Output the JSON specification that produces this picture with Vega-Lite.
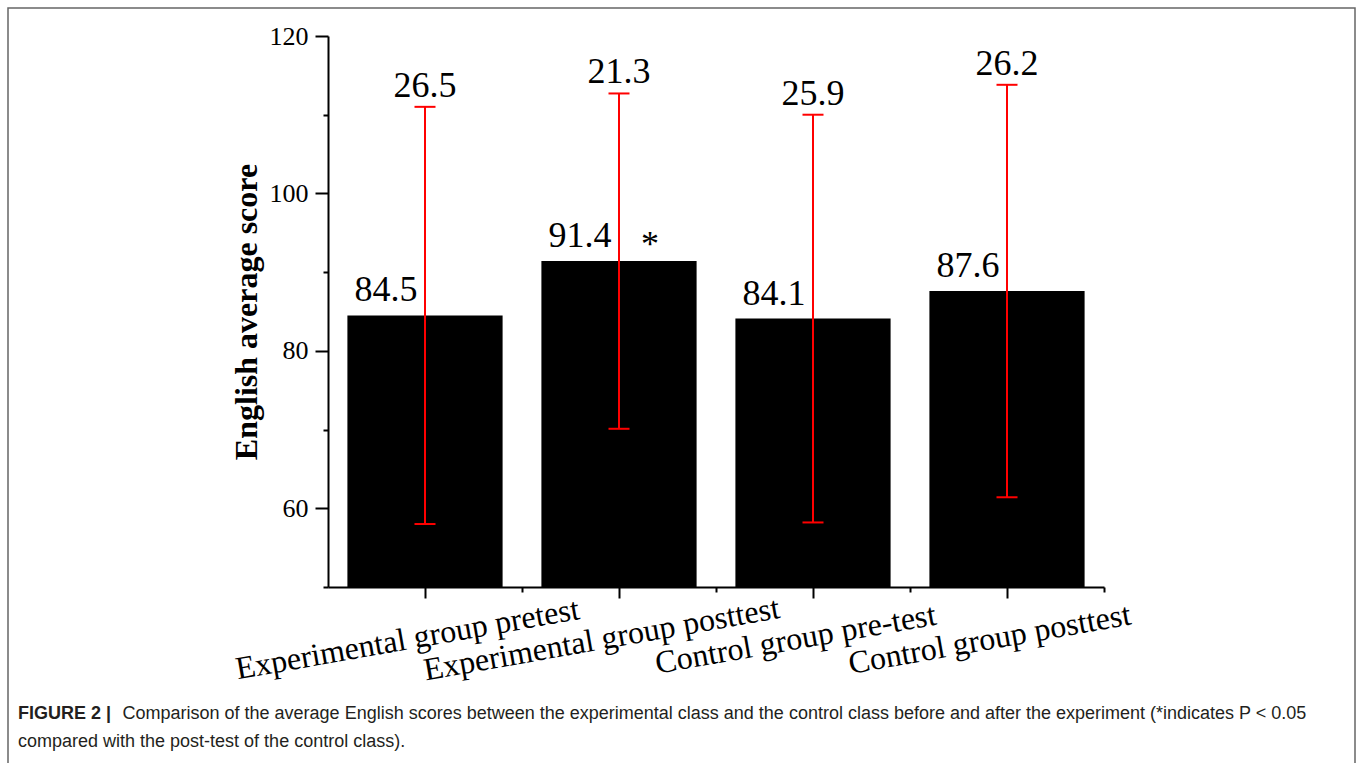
{
  "$schema": "https://vega.github.io/schema/vega-lite/v6.json",
  "width": 1347,
  "height": 760,
  "autosize": {"type": "none"},
  "padding": {"left": 8, "top": 8, "right": 3, "bottom": 0},
  "background": "white",
  "config": {
    "view": {"stroke": "#666666", "strokeWidth": 1.5},
    "font": "Liberation Serif"
  },
  "title": {
    "text": "FIGURE 2 |",
    "orient": "bottom",
    "anchor": "start",
    "frame": "bounds",
    "offset": -63,
    "dx": 10,
    "font": "Liberation Sans",
    "fontSize": 18,
    "fontWeight": "bold",
    "color": "#231f20",
    "subtitle": "compared with the post-test of the control class).",
    "subtitleFont": "Liberation Sans",
    "subtitleFontSize": 18,
    "subtitleColor": "#231f20",
    "subtitlePadding": 10
  },
  "data": {
    "values": [
      {"group": "Experimental group pretest", "mean": 84.5, "sd": 26.5, "low": 58.0, "high": 111.0, "sig": ""},
      {"group": "Experimental group posttest", "mean": 91.4, "sd": 21.3, "low": 70.1, "high": 112.7, "sig": "*"},
      {"group": "Control group pre-test", "mean": 84.1, "sd": 25.9, "low": 58.2, "high": 110.0, "sig": ""},
      {"group": "Control group posttest", "mean": 87.6, "sd": 26.2, "low": 61.4, "high": 113.8, "sig": ""}
    ]
  },
  "resolve": {"axis": {"x": "independent", "y": "independent"}},
  "layer": [
    {
      "mark": {"type": "bar", "color": "black"},
      "encoding": {
        "x": {
          "field": "group", "type": "nominal", "sort": null,
          "scale": {"type": "band", "range": [320, 1096], "paddingInner": 0.2, "paddingOuter": 0.1},
          "axis": {
            "orient": "bottom", "offset": -181, "title": null,
            "domainColor": "black", "domainWidth": 2, "tickColor": "black", "tickWidth": 2, "tickSize": 11,
            "labelAngle": -10, "labelAlign": "center", "labelBaseline": "top",
            "labelFont": "Liberation Serif", "labelFontSize": 32, "labelColor": "black",
            "labelPadding": 26, "labelOffset": -20, "labelLimit": 0, "labelOverlap": false, "labelFlush": false, "labelBound": false,
            "grid": false
          }
        },
        "y": {
          "field": "mean", "type": "quantitative",
          "scale": {"domain": [50, 120], "range": [579, 28], "nice": false, "zero": false},
          "axis": {
            "orient": "left", "offset": -320, "values": [60, 80, 100, 120],
            "title": "English average score", "titleFont": "Liberation Serif", "titleFontSize": 32, "titleFontWeight": "bold", "titleColor": "black", "titlePadding": 6,
            "domainColor": "black", "domainWidth": 2, "tickColor": "black", "tickWidth": 2, "tickSize": 13,
            "labelFont": "Liberation Serif", "labelFontSize": 26, "labelColor": "black", "labelPadding": 7,
            "grid": false
          }
        },
        "y2": {"datum": 50}
      }
    },
    {
      "mark": {"type": "rule", "color": "red", "strokeWidth": 2},
      "encoding": {
        "x": {
          "field": "group", "type": "nominal", "sort": null,
          "axis": {
            "orient": "bottom", "offset": -181, "domain": false, "labels": false,
            "tickColor": "black", "tickWidth": 2, "tickSize": 5, "bandPosition": 1.125, "grid": false,
            "title": "Comparison of the average English scores between the experimental class and the control class before and after the experiment (*indicates P < 0.05",
            "titleX": 114, "titleY": 117, "titleAlign": "left", "titleBaseline": "top", "titleAngle": 0,
            "titleFont": "Liberation Sans", "titleFontSize": 18, "titleFontWeight": "normal", "titleColor": "#231f20", "titleLimit": 2000
          }
        },
        "y": {
          "field": "low", "type": "quantitative",
          "axis": {
            "orient": "left", "offset": -320, "values": [50, 70, 90, 110], "title": null, "domain": false, "labels": false,
            "tickColor": "black", "tickWidth": 2, "tickSize": 5, "grid": false
          }
        },
        "y2": {"field": "high"}
      }
    },
    {
      "mark": {"type": "tick", "color": "red", "thickness": 2, "size": 21, "opacity": 1},
      "encoding": {
        "x": {"field": "group", "type": "nominal", "sort": null, "axis": null},
        "y": {"field": "low", "type": "quantitative", "axis": null}
      }
    },
    {
      "mark": {"type": "tick", "color": "red", "thickness": 2, "size": 21, "opacity": 1},
      "encoding": {
        "x": {"field": "group", "type": "nominal", "sort": null, "axis": null},
        "y": {"field": "high", "type": "quantitative", "axis": null}
      }
    },
    {
      "mark": {"type": "text", "font": "Liberation Serif", "fontSize": 36, "color": "black", "baseline": "alphabetic", "align": "center", "dx": -39, "dy": -14},
      "encoding": {
        "x": {"field": "group", "type": "nominal", "sort": null, "axis": null},
        "y": {"field": "mean", "type": "quantitative", "axis": null},
        "text": {"field": "mean", "type": "quantitative", "format": ".1f"}
      }
    },
    {
      "mark": {"type": "text", "font": "Liberation Serif", "fontSize": 36, "color": "black", "baseline": "alphabetic", "align": "center", "dy": -10},
      "encoding": {
        "x": {"field": "group", "type": "nominal", "sort": null, "axis": null},
        "y": {"field": "high", "type": "quantitative", "axis": null},
        "text": {"field": "sd", "type": "quantitative", "format": ".1f"}
      }
    },
    {
      "mark": {"type": "text", "font": "Liberation Serif", "fontSize": 36, "color": "black", "baseline": "alphabetic", "align": "center", "dx": 31, "dy": -5},
      "encoding": {
        "x": {"field": "group", "type": "nominal", "sort": null, "axis": null},
        "y": {"field": "mean", "type": "quantitative", "axis": null},
        "text": {"field": "sig", "type": "nominal"}
      }
    }
  ]
}
